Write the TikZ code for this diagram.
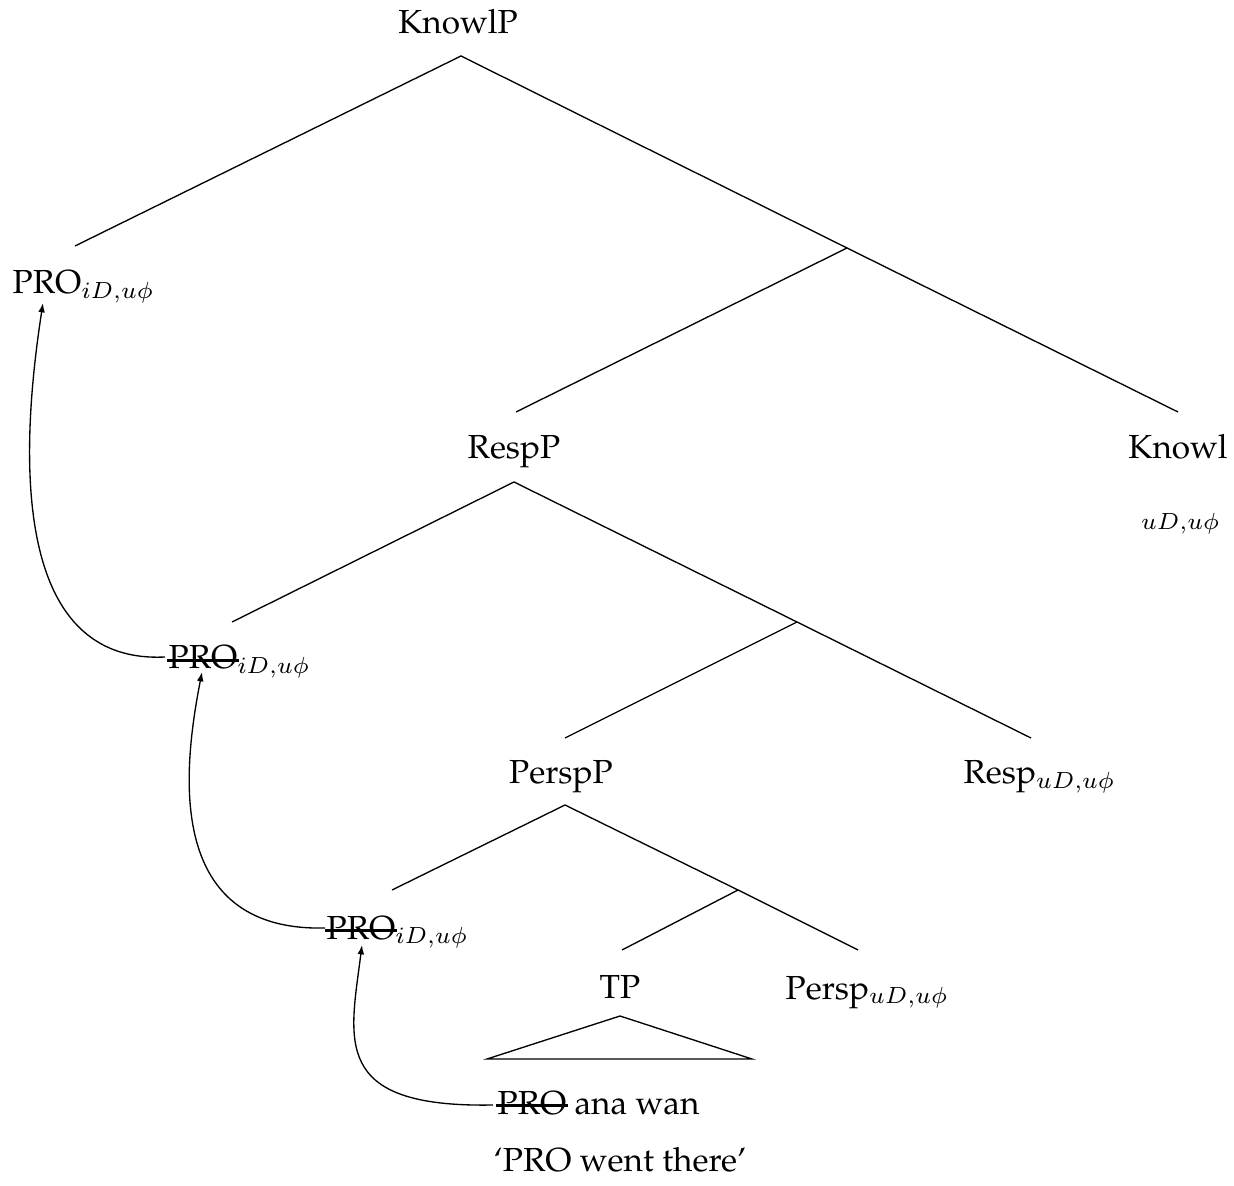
\documentclass[tikz,border=0pt]{standalone}
\usepackage[T1]{fontenc}
\usepackage{palatino}
\usetikzlibrary{arrows.meta}
\newcommand{\feat}[1]{$_{#1}$}
\newcommand{\strk}[1]{\setbox0\hbox{#1}\rlap{\kern-.05em\vrule height .29em depth -.21em width \dimexpr\wd0+.1em\relax}\box0\relax}
\begin{document}
\begin{tikzpicture}[x=0.3pt,y=-0.3pt,
  lab/.style={inner sep=0pt,anchor=base},
  labw/.style={inner sep=0pt,anchor=base west},
  branch/.style={line width=0.4pt},
  move/.style={-{Latex[length=2.8pt,width=2pt]},line width=0.4pt}]
\useasboundingbox (0,0) rectangle (1234,1186);
% labels
\node[lab]  (knowlp) at (458,34)   {KnowlP};
\node[labw] (pro1)   at (12,294)   {PRO\feat{iD,u\phi}};
\node[lab]  (respp)  at (514,459)  {RespP};
\node[lab]  (knowl)  at (1178,459) {Knowl};
\node[lab]  (knowlf) at (1181,525) {\feat{uD,u\phi}};
\node[labw] (pro2)   at (168,669)  {\strk{PRO}\feat{iD,u\phi}};
\node[lab]  (perspp) at (561,784)  {PerspP};
\node[labw] (resp)   at (963,784)  {Resp\feat{uD,u\phi}};
\node[labw] (pro3)   at (326,939)  {\strk{PRO}\feat{iD,u\phi}};
\node[lab]  (tp)     at (620,998)  {TP};
\node[labw] (persp)  at (785,999)  {Persp\feat{uD,u\phi}};
\node[labw] (pro4)   at (497,1114) {\strk{PRO} ana wan};
\node[lab]  (gloss)  at (620,1171) {`PRO went there'};
% branch points
\coordinate (kp-t) at (461,56);
\coordinate (p1-b) at (75,246);
\coordinate (j1)   at (847,248);
\coordinate (rp-b) at (516,412);
\coordinate (k-b)  at (1178,412);
\coordinate (rp-t) at (514,482);
\coordinate (p2-b) at (232,622);
\coordinate (j2)   at (797,622);
\coordinate (pp-b) at (565,738);
\coordinate (r-b)  at (1031,738);
\coordinate (pp-t) at (565,805);
\coordinate (p3-b) at (392,890);
\coordinate (j3)   at (738,890);
\coordinate (tp-b) at (622,950);
\coordinate (ps-b) at (858,950);
\coordinate (tp-t) at (620,1016);
\coordinate (tri-l) at (487,1059);
\coordinate (tri-r) at (752,1059);
% tree
\draw[branch] (p1-b) -- (kp-t) -- (j1) -- (k-b);
\draw[branch] (j1) -- (rp-b);
\draw[branch] (p2-b) -- (rp-t) -- (j2) -- (r-b);
\draw[branch] (j2) -- (pp-b);
\draw[branch] (p3-b) -- (pp-t) -- (j3) -- (ps-b);
\draw[branch] (j3) -- (tp-b);
\draw[branch] (tp-t) -- (tri-l) -- (tri-r) -- cycle;
% movement arrows
\coordinate (m1s) at (493,1105);
\coordinate (m1t) at (362,945);
\coordinate (m2s) at (325,928);
\coordinate (m2t) at (202,672);
\coordinate (m3s) at (165,657);
\coordinate (m3t) at (43,303);
\draw[move] (m1s) .. controls (330,1108) and (350,1040) .. (m1t);
\draw[move] (m2s) .. controls (160,932) and (185,760) .. (m2t);
\draw[move] (m3s) .. controls (0,665) and (25,420) .. (m3t);
\end{tikzpicture}
\end{document}
